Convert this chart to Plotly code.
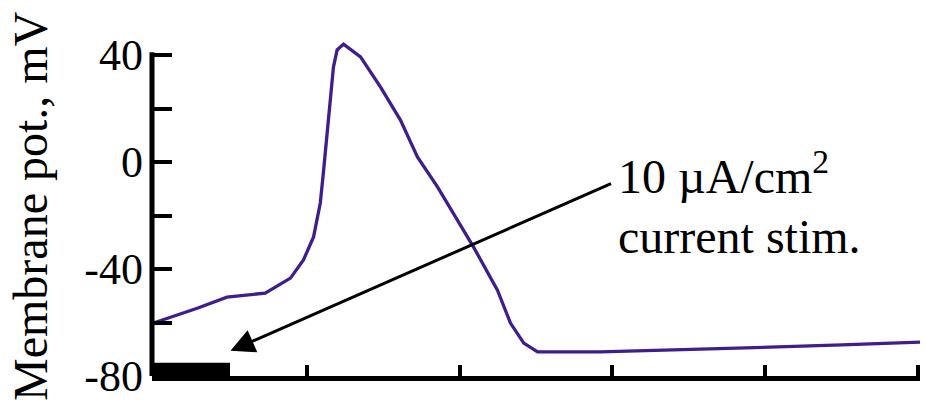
import plotly.graph_objects as go

# Time (ms) and membrane potential (mV)
time_ms = [0.0, 0.29, 0.48, 0.73, 0.895, 0.98, 1.046, 1.09, 1.11, 1.13, 1.157, 1.176, 1.2,
           1.242, 1.353, 1.484, 1.614, 1.725, 1.856, 1.987, 2.092, 2.248, 2.333, 2.42, 2.51,
           2.92, 3.42, 3.51, 4.03, 4.5, 5.01]
potential_mv = [-60.2, -54.6, -50.5, -49.0, -43.4, -36.6, -28.0, -15.3, -4.1, 8.2, 24.3, 35.5, 41.9,
                44.1, 39.3, 28.0, 15.7, 1.9, -9.3, -21.7, -31.8, -47.9, -60.2, -67.7, -71.0,
                -71.0, -70.3, -69.9, -69.2, -68.4, -67.3]

y_tick_vals = [40, 20, 0, -20, -40, -60, -80]
y_tick_text = ["40", " ", "0", " ", "-40", " ", "-80"]
x_tick_vals = [0, 1, 2, 3, 4, 5]

stim_start, stim_end = 0.0, 0.5
stim_label_1 = "10 \u00b5A/cm<sup>2</sup>"
stim_label_2 = "current stim."
y_title = "Membrane pot., mV"

arrow_tip = (0.503, -70.6)
arrow_tail = (3.0, -7.85)

FONT = "Liberation Serif, Times New Roman, serif"

fig = go.Figure()
fig.add_trace(go.Scatter(x=time_ms, y=potential_mv, mode="lines",
                         line=dict(color="#3f1d8c", width=3.3), cliponaxis=False,
                         hoverinfo="skip"))

# stimulus bar
fig.add_shape(type="rect", xref="x", yref="y", x0=stim_start, x1=stim_end,
              y0=-81.2, y1=-75.0, fillcolor="black", line=dict(width=0), layer="above")
# y-axis line from -80 to 40
fig.add_shape(type="line", xref="paper", yref="y", x0=0, x1=0, y0=-81.2, y1=41,
              line=dict(color="black", width=5), layer="above")

fig.add_annotation(x=arrow_tip[0], y=arrow_tip[1], ax=arrow_tail[0], ay=arrow_tail[1],
                   xref="x", yref="y", axref="x", ayref="y", text="", showarrow=True,
                   arrowhead=2, arrowsize=1.6, arrowwidth=3, arrowcolor="black")
fig.add_annotation(x=3.025, y=-16.1, xref="x", yref="y", text=stim_label_1, showarrow=False,
                   xanchor="left", yanchor="bottom", font=dict(family=FONT, size=48, color="black"))
fig.add_annotation(x=3.025, y=-38.5, xref="x", yref="y", text=stim_label_2, showarrow=False,
                   xanchor="left", yanchor="bottom", font=dict(family=FONT, size=48, color="black"))
fig.add_annotation(x=-0.1576, y=0.5045, xref="paper", yref="paper", text=y_title, showarrow=False,
                   textangle=-90, xanchor="center", yanchor="middle",
                   font=dict(family=FONT, size=48, color="black"))

fig.update_layout(
    width=926, height=409, margin=dict(l=152, r=6, t=39, b=33),
    paper_bgcolor="white", plot_bgcolor="white", showlegend=False,
    font=dict(family=FONT, size=44, color="black"),
)
fig.update_xaxes(range=[-0.01, 5.01], tickvals=x_tick_vals, showticklabels=False,
                 ticks="inside", ticklen=11, tickwidth=4, tickcolor="black",
                 showline=True, linewidth=5, linecolor="black", showgrid=False, zeroline=False)
fig.update_yaxes(range=[-80, 46], tickvals=y_tick_vals, ticktext=y_tick_text,
                 ticks="inside", ticklen=20, tickwidth=4, tickcolor="black",
                 showline=False, showgrid=False, zeroline=False, ticklabelstandoff=8,
                 tickfont=dict(family=FONT, size=44, color="black"))

fig.write_html("out.html")
